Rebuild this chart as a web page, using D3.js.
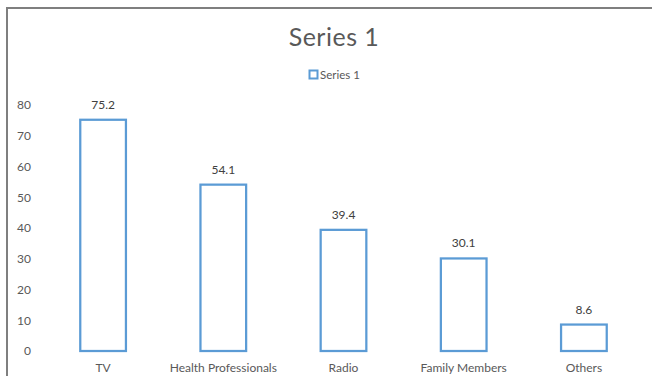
<!DOCTYPE html>
<html><head><meta charset="utf-8">
<script src="https://cdn.jsdelivr.net/npm/d3@7"></script>
<style>body{margin:0;background:#fff;}svg{display:block;font-family:Lato,"Open Sans",sans-serif;}</style>
</head><body>
<script>
const categories = ["TV","Health Professionals","Radio","Family Members","Others"];
const values = [75.2,54.1,39.4,30.1,8.6];
const yTicks = [0,10,20,30,40,50,60,70,80];
const seriesName = "Series 1";
const title = "Series 1";

const W = 652, H = 376;
const svg = d3.select("body").append("svg").attr("width", W).attr("height", H);
svg.append("rect").attr("width", W).attr("height", H).attr("fill", "#fff");
// frame (top and left)
svg.append("path").attr("d", `M7,${H} V8 H${W}`).attr("fill","none").attr("stroke","#7f7f7f").attr("stroke-width",2);

const x = d3.scaleBand().domain(categories).range([43, 644]).paddingInner(0.62).paddingOuter(0.31);
const y = d3.scaleLinear().domain([0, 80]).range([351, 105]);

svg.append("text").attr("x", 334).attr("y", 46).attr("text-anchor","middle")
  .attr("font-size", 25).attr("letter-spacing", 0.5).attr("fill","#595959").text(title);

// legend
svg.append("rect").attr("x", 309.5).attr("y", 70.5).attr("width", 8).attr("height", 8)
  .attr("fill","#fff").attr("stroke","#5B9BD5").attr("stroke-width",2);
svg.append("text").attr("x", 320).attr("y", 79).attr("font-size", 11.5).attr("fill","#595959").text(seriesName);

// y axis labels
const yAxis = d3.axisLeft(y).tickValues(yTicks).tickSize(0).tickPadding(0);
const yg = svg.append("g").attr("transform","translate(31,0)").call(yAxis);
yg.select(".domain").remove();
yg.selectAll("text").attr("font-size", 12).attr("fill","#595959").attr("font-family","Lato,'Open Sans',sans-serif");

// bars
svg.selectAll("rect.bar").data(values).enter().append("rect").attr("class","bar")
  .attr("x", (d,i) => x(categories[i]))
  .attr("y", d => y(d))
  .attr("width", x.bandwidth())
  .attr("height", d => y(0) - y(d))
  .attr("fill","#fff").attr("stroke","#5B9BD5").attr("stroke-width",2.25);

// data labels
svg.selectAll("text.val").data(values).enter().append("text").attr("class","val")
  .attr("x", (d,i) => x(categories[i]) + x.bandwidth()/2)
  .attr("y", d => y(d) - 11)
  .attr("text-anchor","middle").attr("font-size", 12).attr("fill","#404040")
  .text(d => d.toFixed(1));

// x axis labels
const xAxis = d3.axisBottom(x).tickSize(0).tickPadding(0);
const xg = svg.append("g").attr("transform","translate(0,363)").call(xAxis);
xg.select(".domain").remove();
xg.selectAll("text").attr("font-size", 12).attr("fill","#595959").attr("font-family","Lato,'Open Sans',sans-serif");
</script>
</body></html>
